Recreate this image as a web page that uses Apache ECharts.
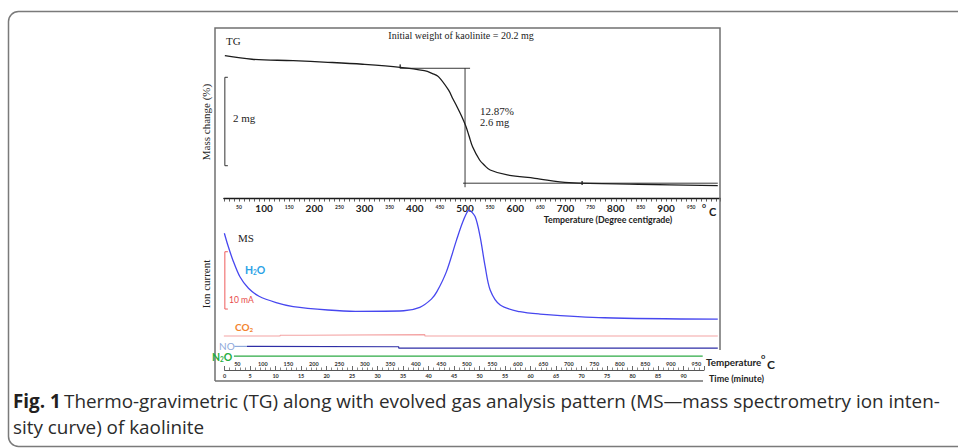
<!DOCTYPE html>
<html>
<head>
<meta charset="utf-8">
<script src="https://cdn.jsdelivr.net/npm/echarts@6/dist/echarts.min.js"></script>
<style>
html,body{margin:0;padding:0;background:#fff;}
#c{width:958px;height:448px;}
</style>
</head>
<body>
<div id="c"></div>
<script>
// ---- TG: residual mass (% of the initial 20.2 mg) against temperature (°C)
const initialMassMg = 20.2;
const tgTemp = [22, 76, 158, 227, 296, 371, 419, 435, 447, 467, 476, 484, 493, 502, 508, 515, 529, 538, 550, 584, 639, 707, 845, 1003];
const tgMass = [100.0, 99.6, 99.44, 99.26, 99.04, 98.70, 98.32, 98.0, 97.65, 96.16, 95.15, 94.29, 93.25, 92.05, 91.0, 89.81, 88.32, 87.76, 87.20, 86.64, 86.27, 85.78, 85.60, 85.44];

// step construction for the main loss
const lossUpperPct = 98.59;
const lossPct = 12.87;
const lossMassMg = 2.6;
const lossMidTemp = 500;
const upperTangentTemp = [371, 510];
const lowerTangentTemp = [496, 1003];
const tgMarkTemp = [371, 733];
const tgMarkPct = [98.8, 85.75];

// 2 mg scale bar
const massBarMg = 2;
const massBarTopPct = 97.58;
const massBarTemp = [28, 22];

// ---- MS: ion current traces (offset), against temperature (°C)
const h2oTemp = [21, 28, 38, 52, 69, 90, 124, 158, 227, 282, 378, 410, 433, 444, 463, 483, 497, 508, 520, 530, 540, 550, 570, 609, 649, 777, 1003];
const h2oCurrent = [22.2, 20.1, 17.5, 14.6, 12.6, 11.2, 10.1, 9.4, 8.8, 8.57, 8.67, 9.27, 10.7, 12.0, 15.5, 21.0, 24.5, 26.2, 25.1, 21.6, 16.4, 12.3, 9.67, 8.5, 8.1, 7.45, 7.2];
const co2Temp = [20, 132, 180, 420, 1003];
const co2Current = [4.26, 4.4, 4.5, 4.26, 4.26];
const noLeadTemp = [41, 66];
const noLeadCurrent = [2.45, 2.45];
const noTemp = [66, 70, 368, 1003];
const noCurrent = [2.45, 2.39, 2.16, 2.16];
const n2oTemp = [40, 973];
const n2oCurrent = [0.77, 0.77];

// 10 mA scale bar
const currentBarMA = 10;
const currentBarTop = 18.97;
const currentBarTemp = [28, 22];

// ---- bottom ruler: time (minute) with matching temperature
const timeMin = 0, timeMax = 94, timeStep = 5, timeLastLabel = 90;
const rulerTempStep = 50, rulerTempFirst = 50, rulerTempLast = 950;

// TG axis labels
const tgAxisMin = 20, tgAxisMax = 1008, tgTickStep = 10, tgLabelStep = 50, tgLabelLast = 950;

const zip = (a, b) => a.map((v, i) => [v, b[i]]);

const SERIF = "'Liberation Serif', 'Times New Roman', serif";
const SANS = "Lato, 'Open Sans', sans-serif";
const CAP = "'Open Sans', sans-serif";

function fitFont(text, family, weight, target) {
  const ctx = document.createElement('canvas').getContext('2d');
  ctx.font = weight + ' 100px ' + family;
  return 100 * target / ctx.measureText(text).width;
}

const capLine1 = 'Thermo-gravimetric (TG) along with evolved gas analysis pattern (MS\u2014mass spectrometry ion inten-';
const capLine2 = 'sity curve) of kaolinite';
const capSize = Math.min(19, fitFont(capLine1, CAP, 'normal', 876));

const chart = echarts.init(document.getElementById('c'), null, {renderer: 'svg', width: 958, height: 448});

const lowerPct = lossUpperPct - lossPct;
const massBarBottom = massBarTopPct - massBarMg / initialMassMg * 100;
const currentBarBottom = currentBarTop - currentBarMA;

function txt(x, y, text, o) {
  o = o || {};
  return {
    type: 'text', x: x, y: y, rotation: o.rotation || 0, z: 10,
    style: {
      text: text,
      fontFamily: o.family || SERIF,
      fontSize: o.size || 10,
      fontWeight: o.weight || 'normal',
      fill: o.color || '#222',
      align: o.align || 'left',
      verticalAlign: 'middle',
      rich: o.rich
    }
  };
}

function chem(color, size, family, weight) {
  return {
    n: {fontFamily: family, fontSize: size, fill: color, color: color, fontWeight: weight || 'normal', verticalAlign: 'middle'},
    s: {fontFamily: family, fontSize: size * 0.62, fill: color, color: color, fontWeight: weight || 'normal', padding: [size * 0.55, 0, 0, 0]}
  };
}

const lineS = (data, color, width, xi, extra) => Object.assign({
  type: 'line', data: data, xAxisIndex: xi, yAxisIndex: xi,
  showSymbol: false, symbol: 'none', silent: true,
  lineStyle: {color: color, width: width}
}, extra || {});

const option = {
  animation: false,
  backgroundColor: '#fff',
  grid: [
    {left: 223.85, top: 28, width: 496.45, height: 170.56},
    {left: 223.85, top: 200, width: 496.45, height: 160.44},
    {left: 224.6, top: 360, width: 479.4, height: 10},
    {left: 211.85, top: 340, width: 510, height: 20}
  ],
  xAxis: [
    {
      gridIndex: 0, type: 'value', min: tgAxisMin, max: tgAxisMax, interval: tgTickStep,
      position: 'bottom',
      axisLine: {lineStyle: {color: '#1a1a1a', width: 1.3}},
      axisTick: {show: true, length: 3, lineStyle: {color: '#333', width: 0.8}},
      splitLine: {show: false},
      axisLabel: {
        interval: 0, margin: 4, showMinLabel: true, showMaxLabel: true,
        formatter: v => {
          if (v <= 0 || v > tgLabelLast || v % tgLabelStep !== 0) return '';
          return v % 100 === 0 ? '{big|' + v + '}' : '{small|' + v + '}';
        },
        rich: {
          big: {fontFamily: SANS, fontWeight: 'bold', fontSize: 10, color: '#222', lineHeight: 10},
          small: {fontFamily: SANS, fontWeight: 'bold', fontSize: 5, color: '#333', lineHeight: 9}
        }
      }
    },
    {gridIndex: 1, type: 'value', min: tgAxisMin, max: tgAxisMax, show: false},
    {
      gridIndex: 2, type: 'value', min: timeMin, max: timeMax, interval: timeStep,
      axisLine: {lineStyle: {color: '#444', width: 0.9}},
      axisTick: {show: true, inside: true, length: 4, lineStyle: {color: '#444', width: 0.8}},
      minorTick: {show: true, splitNumber: 5, length: 2.5, lineStyle: {color: '#555', width: 0.7}},
      splitLine: {show: false},
      axisLabel: {
        interval: 0, margin: 3, fontSize: 5.5, fontWeight: 'bold', fontFamily: SANS, color: '#333',
        formatter: v => (v <= timeLastLabel ? String(v) : '')
      }
    },
    {
      gridIndex: 3, type: 'value', min: 0, max: 1000, interval: rulerTempStep,
      axisLine: {show: false}, axisTick: {show: false}, splitLine: {show: false},
      axisLabel: {
        interval: 0, margin: 1, fontSize: 5.5, fontWeight: 'bold', fontFamily: SANS, color: '#333',
        formatter: v => (v >= rulerTempFirst && v <= rulerTempLast ? String(v) : '')
      }
    }
  ],
  yAxis: [
    {gridIndex: 0, type: 'value', min: 84, max: 103.1, show: false},
    {gridIndex: 1, type: 'value', min: 0, max: 28, show: false},
    {gridIndex: 2, type: 'value', min: 0, max: 1, show: false},
    {gridIndex: 3, type: 'value', min: 0, max: 1, show: false}
  ],
  series: [
    lineS(zip(tgTemp, tgMass), '#1c1c1c', 1.3, 0, {smooth: 0.35}),
    lineS(upperTangentTemp.map(t => [t, lossUpperPct]), '#222', 0.9, 0),
    lineS([[lossMidTemp, lossUpperPct], [lossMidTemp, lowerPct - 0.45]], '#222', 0.9, 0),
    lineS(lowerTangentTemp.map(t => [t, lowerPct]), '#222', 0.9, 0),
    {
      type: 'scatter', xAxisIndex: 0, yAxisIndex: 0, silent: true,
      data: zip(tgMarkTemp, tgMarkPct), symbol: 'rect', symbolSize: [1.6, 4],
      itemStyle: {color: '#222'}
    },
    lineS([[massBarTemp[0], massBarTopPct], [massBarTemp[1], massBarTopPct],
           [massBarTemp[1], massBarBottom], [massBarTemp[0], massBarBottom]], '#333', 1, 0),
    lineS(zip(h2oTemp, h2oCurrent), '#4747ef', 1.3, 1, {smooth: 0.3}),
    lineS(zip(co2Temp, co2Current), '#f4a3a3', 1.1, 1, {step: 'end'}),
    lineS(zip(noLeadTemp, noLeadCurrent), '#8fa9da', 1.2, 1),
    lineS(zip(noTemp, noCurrent), '#2e2ea6', 1.2, 1, {step: 'end'}),
    lineS(zip(n2oTemp, n2oCurrent), '#2daa45', 1.3, 1),
    lineS([[currentBarTemp[0], currentBarTop], [currentBarTemp[1], currentBarTop],
           [currentBarTemp[1], currentBarBottom], [currentBarTemp[0], currentBarBottom]], '#ee5c5c', 1, 1)
  ],
  graphic: [
    // outer panel
    {type: 'rect', shape: {x: 8.5, y: 11.5, width: 990, height: 435, r: 10}, z: 1,
     style: {stroke: '#7a7a7a', fill: 'none', lineWidth: 1.5}},
    // figure frame
    {type: 'polyline', shape: {points: [[215, 381], [215, 28], [720, 28], [720, 350]]}, z: 1,
     style: {stroke: '#707070', fill: 'none', lineWidth: 1.5}},
    {type: 'line', shape: {x1: 215, y1: 381, x2: 703, y2: 381}, z: 1,
     style: {stroke: '#707070', lineWidth: 1.5}},

    txt(226, 41, 'TG', {size: 11}),
    txt(461, 35, 'Initial weight of kaolinite = ' + initialMassMg + ' mg', {size: 10, align: 'center'}),
    txt(206, 122, 'Mass change (%)', {size: 11, align: 'center', rotation: Math.PI / 2}),
    txt(233, 118, massBarMg + ' mg', {size: 11}),
    txt(480, 110.5, lossPct + '%', {size: 11}),
    txt(480, 122.5, lossMassMg + ' mg', {size: 10.5}),
    txt(608, 219, 'Temperature (Degree centigrade)', {family: SANS, weight: 'bold', size: 8.8, align: 'center'}),
    txt(702, 204.5, 'o', {family: SANS, weight: 'bold', size: 7}),
    txt(709, 211, 'C', {family: SANS, weight: 'bold', size: 11}),

    txt(238, 238, 'MS', {size: 11}),
    txt(206, 284, 'Ion current', {size: 11, align: 'center', rotation: Math.PI / 2}),
    txt(245, 270, '{n|H}{s|2}{n|O}', {family: SANS, size: 10.5, color: '#2aa2e6', rich: chem('#2aa2e6', 10.5, SANS, 'bold')}),
    txt(229, 300, currentBarMA + ' mA', {family: SANS, size: 8.5, color: '#e84a4a'}),
    txt(235, 327, '{n|CO}{s|2}', {family: SANS, size: 10, color: '#f3842e', rich: chem('#f3842e', 10, SANS, 'bold')}),
    txt(219, 345.5, 'NO', {family: SANS, size: 10, color: '#8ea8da'}),
    txt(212, 356.5, '{n|N}{s|2}{n|O}', {family: SANS, size: 10.5, color: '#25ad3e', rich: chem('#25ad3e', 10.5, SANS, 'bold')}),

    txt(706, 362, 'Temperature', {family: SANS, weight: 'bold', size: 9.8}),
    txt(761, 356, 'o', {family: SANS, weight: 'bold', size: 7.5}),
    txt(767, 364, 'C', {family: SANS, weight: 'bold', size: 12}),
    txt(709, 378.5, 'Time (minute)', {family: SANS, weight: 'bold', size: 9}),

    txt(13, 401, 'Fig. 1', {family: CAP, weight: 'bold', size: capSize, color: '#231f20'}),
    txt(64, 401, capLine1, {family: CAP, size: capSize, color: '#2b2b2b'}),
    txt(13, 427, capLine2, {family: CAP, size: capSize, color: '#2b2b2b'})
  ]
};

chart.setOption(option);
</script>
</body>
</html>
